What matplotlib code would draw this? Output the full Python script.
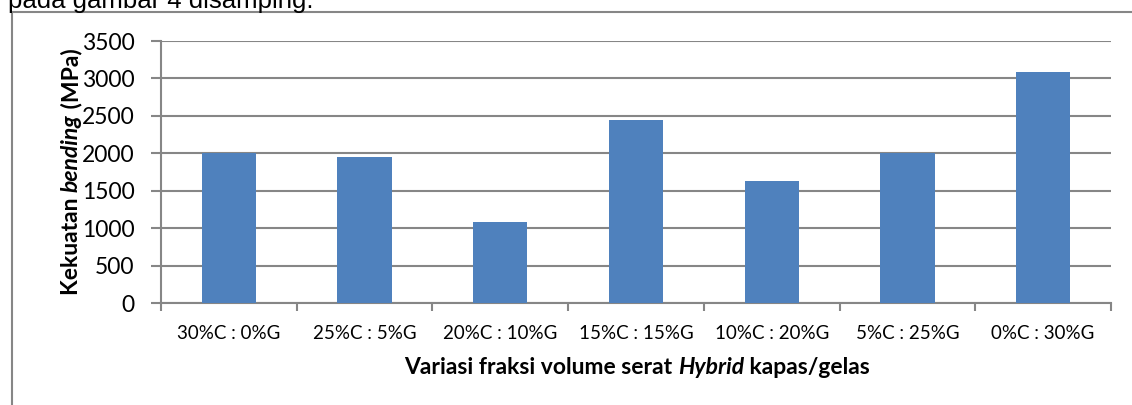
"""Bending strength per hybrid fibre fraction (cotton/glass), Excel-style bar chart."""
import matplotlib
matplotlib.use("Agg")
import matplotlib.pyplot as plt
from matplotlib.lines import Line2D

W, H, DPI = 1132, 405, 100
GRAY = "#868686"
BLUE = "#4F81BD"
FONT = "Lato"

categories = ["30%C : 0%G", "25%C : 5%G", "20%C : 10%G", "15%C : 15%G",
              "10%C : 20%G", "5%C : 25%G", "0%C : 30%G"]
strength = [2000, 1945, 1085, 2440, 1635, 2000, 3085]
yticks = [0, 500, 1000, 1500, 2000, 2500, 3000, 3500]

fig = plt.figure(figsize=(W / DPI, H / DPI), dpi=DPI)
ax = fig.add_axes([161 / W, 1 - 303 / H, (1111 - 161) / W, (303 - 41) / H])

x = list(range(len(categories)))
ax.bar(x, strength, width=0.4, color=BLUE, zorder=3)
ax.set_xlim(-0.5, len(categories) - 0.5)
ax.set_ylim(0, 3500)
ax.set_yticks(yticks)
ax.set_yticklabels([str(v) for v in yticks], fontsize=16.5, family=FONT)
ax.yaxis.grid(True, color=GRAY, linewidth=1.5, zorder=0)
ax.tick_params(axis="y", length=7, width=1.5, color=GRAY, pad=12)

# category labels centred, tick marks on the boundaries
ax.set_xticks(x)
ax.set_xticklabels(categories, fontsize=13.5, family=FONT)
ax.tick_params(axis="x", length=0, pad=16)
ax.set_xticks([i - 0.5 for i in range(len(categories) + 1)], minor=True)
ax.tick_params(axis="x", which="minor", length=6, width=1.5, color=GRAY)

for side in ("top", "right"):
    ax.spines[side].set_visible(False)
for side in ("left", "bottom"):
    ax.spines[side].set_color(GRAY)
    ax.spines[side].set_linewidth(1.5)


def mixed_label(parts, cx, cy, size=16.5):
    """Bold text with italic pieces, laid left to right, centred on (cx, cy) px."""
    r = fig.canvas.get_renderer()
    objs = [fig.text(0, 1 - cy / H, s, fontsize=size, family=FONT, weight="bold",
                     style="italic" if it else "normal", ha="left", va="center")
            for s, it in parts]
    ws = [t.get_window_extent(r).width for t in objs]
    pos = cx - sum(ws) / 2
    for t, w in zip(objs, ws):
        t.set_x(pos / W)
        pos += w


def rotated_label(parts, cx, cy, size=16.5):
    """Same, rotated 90 degrees and laid from the bottom upward."""
    r = fig.canvas.get_renderer()
    objs = [fig.text(cx / W, 0, s, fontsize=size, family=FONT, weight="bold",
                     style="italic" if it else "normal", rotation=90,
                     ha="center", va="bottom") for s, it in parts]
    hs = [t.get_window_extent(r).height for t in objs]
    y0 = cy + sum(hs) / 2  # bottom edge, px from top
    for t, h in zip(objs, hs):
        t.set_position((cx / W, 1 - y0 / H))
        y0 -= h


fig.canvas.draw()
mixed_label([("Variasi fraksi volume serat ", False), ("Hybrid", True),
             (" kapas/gelas", False)], 637, 367)
rotated_label([("Kekuatan ", False), ("bending", True), (" (MPa)", False)], 71, 172)

# surrounding chart frame (runs off the right and bottom of the crop)
fig.add_artist(Line2D([12 / W, 12 / W], [0, 1 - 12 / H], color=GRAY, lw=1.5))
fig.add_artist(Line2D([12 / W, 1], [1 - 12 / H, 1 - 12 / H], color=GRAY, lw=1.5))

# document text above, cut off at the top
fig.text(8 / W, 1 - 8 / H, "pada gambar 4 disamping.", fontsize=18.5,
         family="Liberation Sans", va="baseline")

fig.savefig("out.png", dpi=DPI)
